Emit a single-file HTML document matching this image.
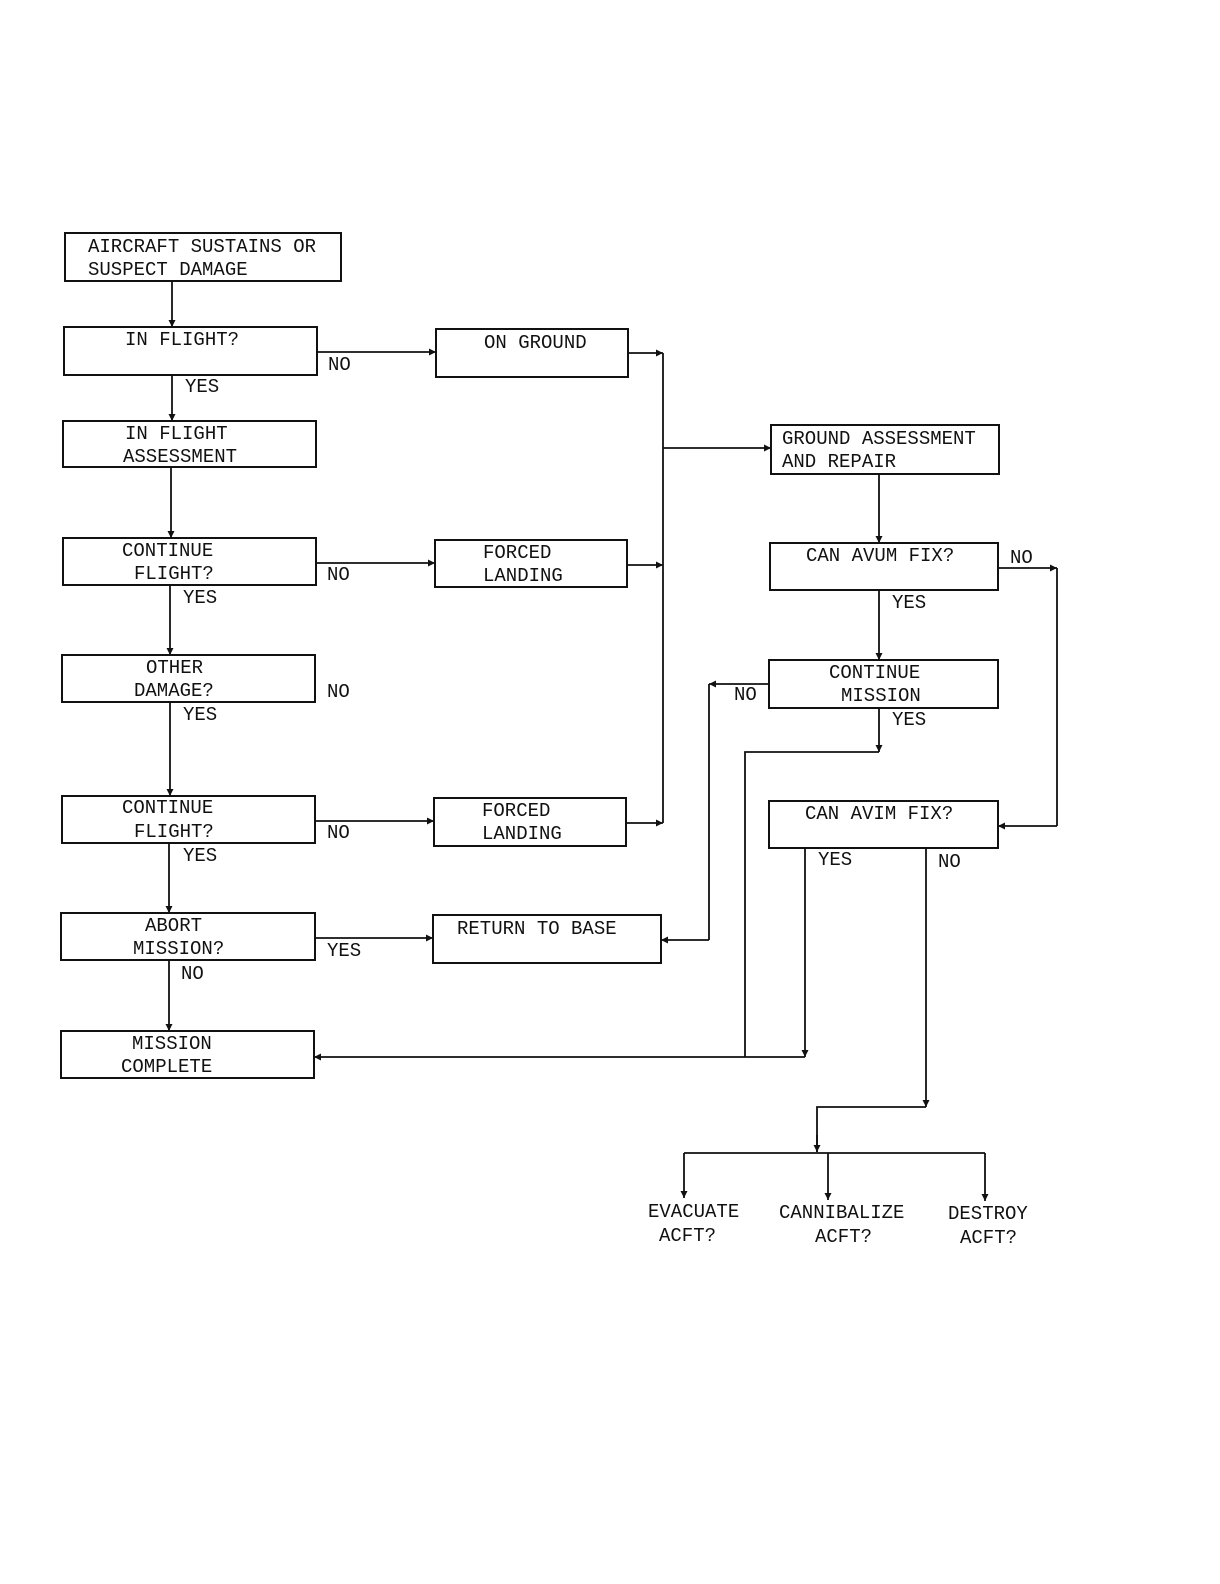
<!DOCTYPE html>
<html><head><meta charset="utf-8"><style>
html,body{margin:0;padding:0;background:#fff;}
svg{display:block;}
text{font-family:"Liberation Mono",monospace;font-size:19px;fill:#111;}
</style></head><body>
<svg width="1220" height="1584" viewBox="0 0 1220 1584" xmlns="http://www.w3.org/2000/svg">
<defs>
<marker id="a" viewBox="0 0 10 10" refX="10" refY="5" markerWidth="9" markerHeight="7" orient="auto-start-reverse" markerUnits="userSpaceOnUse">
<path d="M0,0 L10,5 L0,10 z" fill="#111"/></marker>
</defs>
<g fill="none" stroke="#111" stroke-width="2">
<rect x="65" y="233" width="276" height="48"/>
<rect x="64" y="327" width="253" height="48"/>
<rect x="436" y="329" width="192" height="48"/>
<rect x="63" y="421" width="253" height="46"/>
<rect x="771" y="425" width="228" height="49"/>
<rect x="63" y="538" width="253" height="47"/>
<rect x="435" y="540" width="192" height="47"/>
<rect x="770" y="543" width="228" height="47"/>
<rect x="62" y="655" width="253" height="47"/>
<rect x="769" y="660" width="229" height="48"/>
<rect x="769" y="801" width="229" height="47"/>
<rect x="62" y="796" width="253" height="47"/>
<rect x="434" y="798" width="192" height="48"/>
<rect x="61" y="913" width="254" height="47"/>
<rect x="433" y="915" width="228" height="48"/>
<rect x="61" y="1031" width="253" height="47"/>
</g>
<g fill="none" stroke="#111" stroke-width="1.8">
<line x1="172" y1="281" x2="172" y2="327" marker-end="url(#a)"/>
<line x1="172" y1="375" x2="172" y2="421" marker-end="url(#a)"/>
<line x1="317" y1="352" x2="436" y2="352" marker-end="url(#a)"/>
<line x1="171" y1="467" x2="171" y2="538" marker-end="url(#a)"/>
<line x1="316" y1="563" x2="435" y2="563" marker-end="url(#a)"/>
<line x1="170" y1="585" x2="170" y2="655" marker-end="url(#a)"/>
<line x1="170" y1="702" x2="170" y2="796" marker-end="url(#a)"/>
<line x1="315" y1="821" x2="434" y2="821" marker-end="url(#a)"/>
<line x1="169" y1="843" x2="169" y2="913" marker-end="url(#a)"/>
<line x1="315" y1="938" x2="433" y2="938" marker-end="url(#a)"/>
<line x1="169" y1="960" x2="169" y2="1031" marker-end="url(#a)"/>
<line x1="663" y1="353" x2="663" y2="823"/>
<line x1="628" y1="353" x2="663" y2="353" marker-end="url(#a)"/>
<line x1="627" y1="565" x2="663" y2="565" marker-end="url(#a)"/>
<line x1="626" y1="823" x2="663" y2="823" marker-end="url(#a)"/>
<line x1="663" y1="448" x2="771" y2="448" marker-end="url(#a)"/>
<line x1="879" y1="474" x2="879" y2="543" marker-end="url(#a)"/>
<line x1="879" y1="590" x2="879" y2="660" marker-end="url(#a)"/>
<line x1="998" y1="568" x2="1057" y2="568" marker-end="url(#a)"/>
<line x1="1057" y1="568" x2="1057" y2="826"/>
<line x1="1057" y1="826" x2="998" y2="826" marker-end="url(#a)"/>
<line x1="769" y1="684" x2="709" y2="684" marker-end="url(#a)"/>
<line x1="709" y1="684" x2="709" y2="940"/>
<line x1="709" y1="940" x2="661" y2="940" marker-end="url(#a)"/>
<line x1="879" y1="708" x2="879" y2="752" marker-end="url(#a)"/>
<polyline points="879,752 745,752 745,1057"/>
<line x1="805" y1="848" x2="805" y2="1057" marker-end="url(#a)"/>
<line x1="745" y1="1057" x2="745" y2="1057"/>
<line x1="805" y1="1057" x2="314" y2="1057" marker-end="url(#a)"/>
<line x1="926" y1="848" x2="926" y2="1107" marker-end="url(#a)"/>
<polyline points="926,1107 817,1107 817,1152"/>
<line x1="817" y1="1135" x2="817" y2="1152" marker-end="url(#a)"/>
<line x1="684" y1="1153" x2="985" y2="1153"/>
<line x1="684" y1="1153" x2="684" y2="1198" marker-end="url(#a)"/>
<line x1="828" y1="1153" x2="828" y2="1200" marker-end="url(#a)"/>
<line x1="985" y1="1153" x2="985" y2="1201" marker-end="url(#a)"/>
</g>
<g>
<text x="88" y="252">AIRCRAFT SUSTAINS OR</text>
<text x="88" y="275">SUSPECT DAMAGE</text>
<text x="125" y="345">IN FLIGHT?</text>
<text x="484" y="348">ON GROUND</text>
<text x="125" y="439">IN FLIGHT</text>
<text x="123" y="462">ASSESSMENT</text>
<text x="782" y="444">GROUND ASSESSMENT</text>
<text x="782" y="467">AND REPAIR</text>
<text x="122" y="556">CONTINUE</text>
<text x="134" y="579">FLIGHT?</text>
<text x="483" y="558">FORCED</text>
<text x="483" y="581">LANDING</text>
<text x="806" y="561">CAN AVUM FIX?</text>
<text x="146" y="673">OTHER</text>
<text x="134" y="696">DAMAGE?</text>
<text x="829" y="678">CONTINUE</text>
<text x="841" y="701">MISSION</text>
<text x="122" y="813">CONTINUE</text>
<text x="134" y="837">FLIGHT?</text>
<text x="482" y="816">FORCED</text>
<text x="482" y="839">LANDING</text>
<text x="805" y="819">CAN AVIM FIX?</text>
<text x="145" y="931">ABORT</text>
<text x="133" y="954">MISSION?</text>
<text x="457" y="934">RETURN TO BASE</text>
<text x="132" y="1049">MISSION</text>
<text x="121" y="1072">COMPLETE</text>
<text x="185" y="392">YES</text>
<text x="328" y="370">NO</text>
<text x="327" y="580">NO</text>
<text x="183" y="603">YES</text>
<text x="327" y="697">NO</text>
<text x="183" y="720">YES</text>
<text x="327" y="838">NO</text>
<text x="183" y="861">YES</text>
<text x="327" y="956">YES</text>
<text x="181" y="979">NO</text>
<text x="1010" y="563">NO</text>
<text x="892" y="608">YES</text>
<text x="734" y="700">NO</text>
<text x="892" y="725">YES</text>
<text x="818" y="865">YES</text>
<text x="938" y="867">NO</text>
<text x="648" y="1217">EVACUATE</text>
<text x="659" y="1241">ACFT?</text>
<text x="779" y="1218">CANNIBALIZE</text>
<text x="815" y="1242">ACFT?</text>
<text x="948" y="1219">DESTROY</text>
<text x="960" y="1243">ACFT?</text>
</g>
</svg>
</body></html>
